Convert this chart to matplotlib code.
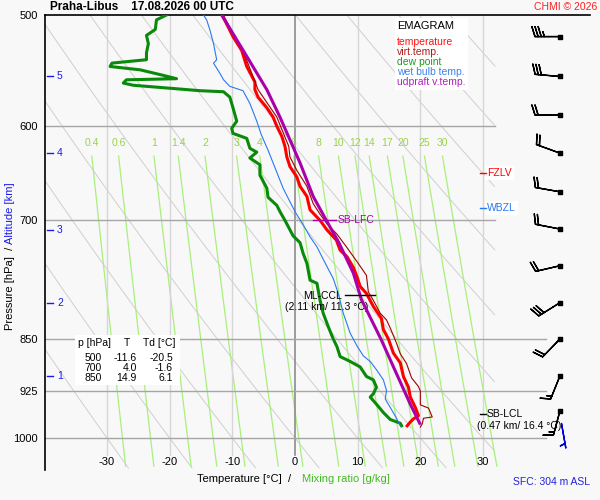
import numpy as np
import matplotlib
matplotlib.use("Agg")
import matplotlib.pyplot as plt
from matplotlib.patches import Rectangle

plt.rcParams["font.family"] = ["Liberation Sans", "DejaVu Sans"]

# ---- sounding (hPa / degC) ----
temp_p = [500, 518, 530, 544, 558, 565, 572, 582, 591, 600, 610, 620, 631, 641, 652, 662, 673, 688, 700, 711,
          723, 735, 743, 756, 768, 780, 789, 806, 822, 837, 850, 870, 884, 904, 920, 935, 951, 964, 969, 974, 980]
temp_t = [-11.6, -9.9, -8.5, -7.7, -6.4, -6.4, -5.9, -4.5, -3.5, -2.9, -2.1, -1.6, -1.3, -0.8, 0.3, 0.8, 1.9, 2.4, 4.0, 5.1,
          6.6, 7.2, 8.3, 9.3, 9.9, 10.4, 11.4, 12.5, 13.8, 14.1, 14.9, 15.7, 16.8, 17.3, 18.1, 18.4, 19.2, 19.7, 18.9, 18.4, 17.9]

virt_p = [500, 530, 565, 591, 620, 631, 645, 662, 681, 693, 704, 716, 732, 749, 766, 787, 798, 815, 824, 835,
          856, 871, 885, 906, 919, 926, 947, 952, 966, 968, 977, 982]
virt_t = [-11.5, -8.3, -5.9, -2.9, -1.0, -0.8, 0.3, 1.9, 2.9, 4.0, 5.1, 6.7, 8.3, 9.9, 11.4, 11.7, 12.5, 13.6, 14.6, 15.2,
          16.2, 16.8, 17.8, 18.6, 19.7, 20.0, 20.0, 21.3, 21.9, 20.5, 20.3, 20.0]

dew_p = [500, 504, 512, 517, 524, 532, 538, 541, 544, 547, 552, 555, 556, 559, 561, 564, 566, 567, 572, 582,
         595, 602, 607, 612, 622, 626, 632, 639, 650, 664, 674, 683, 690, 700, 711, 718, 726, 739, 751, 772,
         776, 798, 815, 833, 850, 861, 875, 882, 890, 904, 909, 920, 930, 935, 946, 959, 970, 976, 980]
dew_t = [-20.5, -22.1, -22.3, -23.7, -23.4, -23.7, -23.7, -29.2, -29.5, -24.7, -21.0, -18.9, -26.9, -27.4, -25.8, -19.4, -15.2, -11.4, -10.4, -9.9,
         -9.3, -10.1, -9.9, -7.7, -7.2, -6.1, -7.2, -5.6, -5.6, -4.5, -4.3, -2.9, -2.4, -1.6, -0.8, -0.3, 0.8, 1.3, 1.9, 2.4,
         3.5, 4.0, 4.5, 5.3, 6.1, 6.7, 7.2, 8.8, 10.4, 11.4, 12.5, 13.0, 12.5, 12.0, 13.0, 14.1, 15.2, 16.8, 17.0]

wet_p = [500, 504, 512, 524, 538, 541, 550, 556, 562, 566, 578, 595, 608, 624, 647, 664, 679, 690, 705, 719,
         731, 746, 770, 789, 815, 842, 860, 874, 882, 894, 909, 925, 938, 951, 968, 980]
wet_t = [-14.6, -14.1, -13.6, -13.0, -12.5, -13.0, -12.0, -11.4, -10.4, -8.3, -7.2, -6.1, -5.4, -4.3, -2.9, -1.9, -0.8, 0.0, 1.3, 2.4,
         3.5, 4.5, 6.1, 6.9, 7.7, 8.8, 9.9, 10.9, 12.0, 13.0, 14.1, 14.6, 14.4, 15.2, 16.2, 16.8]

parc_p = [500, 535, 565, 591, 637, 673, 700, 726, 763, 797, 850, 904, 946, 976]
parc_t = [-11.7, -7.7, -4.5, -2.4, 0.8, 2.9, 5.0, 7.0, 9.3, 10.6, 13.7, 16.4, 18.4, 19.9]

# winds (every 500 m), direction deg / speed kt
wind_p = [518, 553, 589, 627, 668, 710, 754, 801, 850, 903, 956]
wind_dir = [270, 275, 270, 290, 280, 281, 257, 238, 224, 202, 195]
wind_kt = [35, 30, 20, 20, 20, 20, 20, 30, 20, 15, 15]
sfc_p, sfc_dir, sfc_kt = 976, 170, 5

alt_km = [1, 2, 3, 4, 5]
alt_p = [903, 801, 711, 627, 553]

mix_w = [0.4, 0.6, 1, 1.4, 2, 3, 4, 6, 8, 10, 12, 14, 17, 20, 25, 30]
p_levels = [500, 600, 700, 850, 925, 1000]
iso_t = [-30, -20, -10, 0, 10, 20, 30]

table_rows = [("500", "-11.6", "-20.5"), ("700", "4.0", "-1.6"), ("850", "14.9", "6.1")]

RED, DRED, GREEN, BLUE, PURP = "#ff0000", "#a00000", "#0a8a0a", "#2a78f0", "#aa00aa"
BG = "#f8f8f8"

# pixel geometry of the 600x500 original
W, H = 600, 500
X0, X1, Y0, Y1 = 45, 590, 15, 470
def t_at(px): return (px - 295) / 6.267
def p_at(py): return 500 * np.exp((py - Y0) / 610.4)
def fx(px): return px / W
def fy(py): return 1 - py / H

fig = plt.figure(figsize=(6, 5), dpi=100, facecolor=BG)
ax = fig.add_axes([fx(X0), fy(Y1), (X1 - X0) / W, (Y1 - Y0) / H], facecolor=BG)
ax.set_yscale("log")
ax.set_xlim(t_at(X0), t_at(X1))
ax.set_ylim(p_at(Y1), 500)
for s in ("right", "bottom"):
    ax.spines[s].set_visible(False)
ax.spines["top"].set_linewidth(1.2)
ax.spines["left"].set_linewidth(1.2)
ax.set_xticks([])
ax.set_yticks(p_levels)
ax.set_yticklabels([str(p) for p in p_levels])
ax.yaxis.set_minor_locator(matplotlib.ticker.NullLocator())
ax.tick_params(axis="y", length=0, pad=5, labelsize=8)

TMAX = t_at(495)
pp = np.geomspace(500, 1050, 400)

# dry adiabats
for t0 in range(-30, 110, 10):
    tt = (t0 + 273.15) * (pp / 1000) ** 0.286 - 273.15
    tt = np.where(tt <= TMAX, tt, np.nan)
    ax.plot(tt, pp, color="#cfcfcf", lw=0.7, zorder=1)

# mixing-ratio lines
pm = np.geomspace(630, 1047, 100)
for w in mix_w:
    e = w * pm / (622 + w)
    a = np.log(e / 6.112)
    td = 243.5 * a / (17.67 - a)
    ax.plot(td, pm, color="#a8f07c", lw=0.9, zorder=1)
    ax.text(td[0], p_at(143), f"{w:g}", color="#9ad24a", fontsize=7.5, ha="center", va="center")

# isotherms and isobars
for t in iso_t:
    ax.plot([t, t], [500, p_at(455)], color="#8c8c8c" if t == 0 else "#d6d6d6",
            lw=1.2 if t == 0 else 1.0, zorder=1.5)
    ax.text(t, p_at(462), str(t), fontsize=8, ha="center", va="center")
for p in p_levels[1:]:
    xr = TMAX if p < 800 else t_at(546)
    ax.plot([t_at(X0), xr], [p, p], color="#a6a6a6", lw=1, zorder=1.6)

# altitude marks
for k, p in zip(alt_km, alt_p):
    ax.plot([t_at(47), t_at(53)], [p, p], color="#1a1aee", lw=1, clip_on=False)
    ax.text(t_at(57), p, str(k), color="#1a1aee", fontsize=7.5, ha="left", va="center")

# profiles
ax.plot(dew_t, dew_p, color=GREEN, lw=2.2, zorder=3)
ax.plot(wet_t, wet_p, color=BLUE, lw=0.8, zorder=3)
ax.plot(temp_t, temp_p, color=RED, lw=2.2, zorder=3)
ax.plot(virt_t, virt_p, color=DRED, lw=0.8, zorder=3.1)
ax.plot(parc_t, parc_p, color=PURP, lw=2.2, zorder=3.2)

# level annotations
ax.plot([t_at(313), t_at(336)], [700, 700], color=PURP, lw=1, zorder=3.3)
ax.text(t_at(338), 700, "SB-LFC", color=PURP, fontsize=7.5, va="center", ha="left")
ax.plot([t_at(345), t_at(375)], [p_at(295), p_at(295)], color="k", lw=1, zorder=3.3)
ax.text(t_at(342), p_at(296), "ML-CCL", fontsize=7.5, va="center", ha="right")
ax.text(t_at(327), p_at(307), "(2.11 km/ 11.3 °C)", fontsize=7.5, va="center", ha="center")
ax.plot([t_at(480), t_at(486)], [p_at(414), p_at(414)], color="k", lw=1)
ax.text(t_at(487), p_at(414), "SB-LCL", fontsize=7.5, va="center", ha="left")
ax.text(t_at(477), p_at(426), "(0.47 km/ 16.4 °C)", fontsize=7.5, va="center", ha="left")
for py, lab, col in [(173, "FZLV", RED), (208, "WBZL", BLUE)]:
    ax.plot([t_at(480), t_at(486)], [p_at(py), p_at(py)], color=col, lw=1, zorder=4)
    ax.text(t_at(487), p_at(py), lab, color=col, fontsize=7.5, va="center", ha="left",
            bbox=dict(facecolor="white", edgecolor="none", pad=1.5), zorder=3.9)

# wind barbs
d = np.radians(wind_dir)
u = -np.array(wind_kt) * np.sin(d)
v = -np.array(wind_kt) * np.cos(d)
xb = np.full(len(wind_p), t_at(560))
ax.barbs(xb, wind_p, u, v, length=6, linewidth=1, color="k", zorder=5, clip_on=False)
ax.scatter(xb, wind_p, marker="s", s=5, color="k", zorder=6, clip_on=False)
ds = np.radians(sfc_dir)
ax.barbs([t_at(561)], [sfc_p], [-sfc_kt * np.sin(ds)], [-sfc_kt * np.cos(ds)],
         length=6, linewidth=1, color="#0000dd", zorder=5, clip_on=False)

# legend box
fig.add_artist(Rectangle((fx(395), fy(90)), 73 / W, 72 / H, transform=fig.transFigure,
                         facecolor="white", edgecolor="none"))
fig.text(fx(397), fy(26), "EMAGRAM", fontsize=8, va="center")
for i, (lab, col) in enumerate([("temperature", "#ff1010"), ("virt.temp.", "#b01818"),
                                ("dew point", "#1c9a1c"), ("wet bulb temp.", "#3a82f0"),
                                ("udpraft v.temp.", "#b020c0")]):
    fig.text(fx(397), fy(42 + 10 * i), lab, color=col, fontsize=7.5, va="center")

# table
fig.add_artist(Rectangle((fx(75), fy(385)), 105 / W, 50 / H, transform=fig.transFigure,
                         facecolor="white", edgecolor="none"))
fig.text(fx(78), fy(343), "p [hPa]", fontsize=7.5, va="center")
fig.text(fx(127), fy(343), "T", fontsize=7.5, va="center", ha="center")
fig.text(fx(143), fy(343), "Td [°C]", fontsize=7.5, va="center")
for i, (a, b, c) in enumerate(table_rows):
    y = fy(358 + 10 * i)
    fig.text(fx(102), y, a, fontsize=7.5, va="center", ha="right")
    fig.text(fx(137), y, b, fontsize=7.5, va="center", ha="right")
    fig.text(fx(173), y, c, fontsize=7.5, va="center", ha="right")

# titles and axis labels
fig.text(fx(50), fy(7), "Praha-Libus    17.08.2026 00 UTC", fontsize=8.5, fontweight="bold", va="center")
fig.text(fx(597), fy(7), "CHMI © 2026", color="#ff2020", fontsize=7.5, va="center", ha="right")
fig.text(fx(291), fy(479), "Temperature [°C]  /", fontsize=8, va="center", ha="right")
fig.text(fx(302), fy(479), "Mixing ratio [g/kg]", color="#44bb22", fontsize=8, va="center", ha="left")
fig.text(fx(10), fy(247), "Pressure [hPa]  /", rotation=90, fontsize=8, ha="center", va="top")
fig.text(fx(10), fy(244), "Altitude [km]", rotation=90, color="#1a1aee", fontsize=8, ha="center", va="bottom")
fig.text(fx(590), fy(482), "SFC: 304 m ASL", color="#2222dd", fontsize=7.5, va="center", ha="right")

fig.savefig("out.png", dpi=100, facecolor=BG)
